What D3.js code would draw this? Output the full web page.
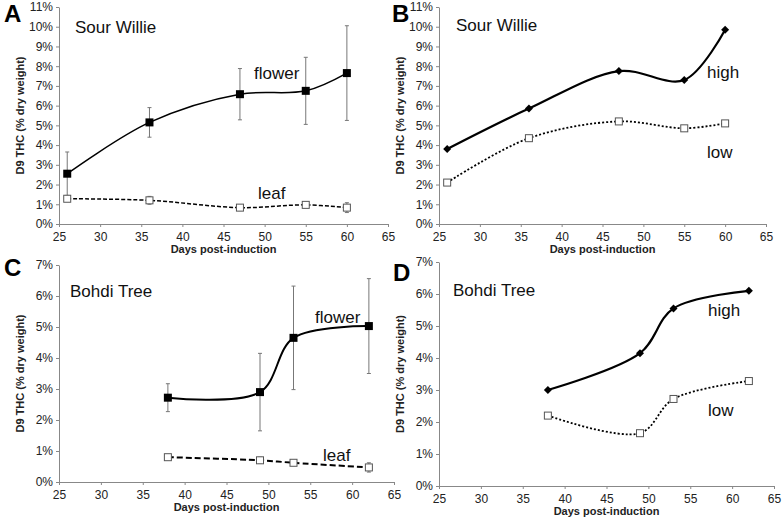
<!DOCTYPE html>
<html><head><meta charset="utf-8">
<script src="https://cdn.jsdelivr.net/npm/d3@7"></script>
<style>body{margin:0;background:#fff;font-family:Arial,"Liberation Sans",sans-serif}</style>
</head><body><svg width="782" height="524"></svg>
<script>
// data
var daysSW = [26, 36, 47, 55, 60];
var flowerSW = [2.55, 5.15, 6.58, 6.75, 7.65];
var flowerSWErr = [1.1, 0.75, 1.3, 1.7, 2.4];
var leafSW = [1.28, 1.2, 0.83, 0.97, 0.83];
var leafSWErr = [0.1, 0.2, 0.15, 0.1, 0.25];
var highSW = [3.8, 5.85, 7.75, 7.3, 9.85];
var lowSW = [2.1, 4.35, 5.2, 4.85, 5.1];
var daysBT = [38, 49, 53, 62];
var flowerBT = [2.72, 2.9, 4.65, 5.03];
var flowerBTErr = [0.45, 1.25, 1.67, 1.53];
var leafBT = [0.8, 0.7, 0.62, 0.47];
var leafBTErr = [0.05, 0.1, 0.05, 0.15];
var highBT = [3.0, 4.15, 5.55, 6.1];
var lowBT = [2.2, 1.65, 2.72, 3.28];
var xTicks = [25, 30, 35, 40, 45, 50, 55, 60, 65];

var svg = d3.select("svg");

function panel(o) {
  var x = d3.scaleLinear().domain([25, 65]).range([o.x0, o.x1]);
  var y = d3.scaleLinear().domain([0, o.ymax]).range([o.y0, o.y1]);
  var g = svg.append("g");
  g.append("g").attr("transform", "translate(0," + o.y0 + ")")
    .call(d3.axisBottom(x).tickValues(xTicks).tickSize(3).tickSizeOuter(0))
    .call(function(a){ a.selectAll("text").attr("font-size", 12).attr("fill", "#222").attr("dy", "0.9em"); a.selectAll("line,path").attr("stroke", "#888"); });
  g.append("g").attr("transform", "translate(" + o.x0 + ",0)")
    .call(d3.axisLeft(y).ticks(o.ymax).tickFormat(function(d){ return d + "%"; }).tickSize(3).tickSizeOuter(0))
    .call(function(a){ a.selectAll("text").attr("font-size", 12).attr("fill", "#222"); a.selectAll("line,path").attr("stroke", "#888"); });
  g.append("text").attr("x", (o.x0 + o.x1) / 2).attr("y", o.y0 + 29).attr("text-anchor", "middle")
    .attr("font-size", 11).attr("font-weight", "bold").attr("fill", "#222").text("Days post-induction");
  g.append("text").attr("transform", "translate(" + (o.x0 - 35) + "," + ((o.y0 + o.y1) / 2) + ") rotate(-90)")
    .attr("text-anchor", "middle").attr("font-size", 11).attr("font-weight", "bold").attr("fill", "#222").text("D9 THC (% dry weight)");
  g.append("text").attr("x", o.lx).attr("y", o.ly).attr("font-size", 24).attr("font-weight", "bold").text(o.letter);
  o.texts.forEach(function(t){
    g.append("text").attr("x", t[1]).attr("y", t[2]).attr("font-size", 17).attr("fill", "#111").text(t[0]);
  });
  var line = d3.line().x(function(d){ return x(d[0]); }).y(function(d){ return y(d[1]); })
    .curve(d3.curveCatmullRom.alpha(0.5));
  o.series.forEach(function(s){
    var pts = o.days.map(function(d, i){ return [d, s.v[i], s.err ? s.err[i] : 0]; });
    if (s.err) {
      pts.forEach(function(p){
        var cx = x(p[0]);
        g.append("path").attr("stroke", "#777").attr("stroke-width", 1).attr("fill", "none")
          .attr("d", "M" + cx + "," + y(p[1] - p[2]) + "V" + y(p[1] + p[2]) +
            "M" + (cx - 2) + "," + y(p[1] - p[2]) + "h4M" + (cx - 2) + "," + y(p[1] + p[2]) + "h4");
      });
    }
    g.append("path").datum(pts).attr("d", line).attr("fill", "none").attr("stroke", "#000")
      .attr("stroke-width", s.w).attr("stroke-dasharray", s.dash || null);
    pts.forEach(function(p){
      var cx = x(p[0]), cy = y(p[1]);
      if (s.mark === "fsq") g.append("rect").attr("x", cx - 4).attr("y", cy - 4).attr("width", 8).attr("height", 8).attr("fill", "#000");
      else if (s.mark === "osq") g.append("rect").attr("x", cx - 3.5).attr("y", cy - 3.5).attr("width", 7).attr("height", 7).attr("fill", "#fff").attr("stroke", "#555");
      else g.append("path").attr("d", "M" + cx + "," + (cy - 4) + "l4,4l-4,4l-4,-4z").attr("fill", "#000");
    });
  });
}

panel({x0: 59, x1: 388, y0: 224, y1: 7, ymax: 11, days: daysSW, letter: "A", lx: 4, ly: 22,
  texts: [["Sour Willie", 75, 33], ["flower", 254, 79], ["leaf", 258, 199]],
  series: [{v: flowerSW, err: flowerSWErr, mark: "fsq", w: 1.5},
           {v: leafSW, err: leafSWErr, mark: "osq", w: 1.5, dash: "4,2"}]});
panel({x0: 439, x1: 766, y0: 224, y1: 7, ymax: 11, days: daysSW, letter: "B", lx: 392, ly: 22,
  texts: [["Sour Willie", 456, 31], ["high", 707, 78], ["low", 707, 158]],
  series: [{v: highSW, mark: "dia", w: 2.2},
           {v: lowSW, mark: "osq", w: 1.8, dash: "2,2"}]});
panel({x0: 59, x1: 394, y0: 482, y1: 265, ymax: 7, days: daysBT, letter: "C", lx: 4, ly: 276,
  texts: [["Bohdi Tree", 70, 297], ["flower", 315, 323], ["leaf", 323, 461]],
  series: [{v: flowerBT, err: flowerBTErr, mark: "fsq", w: 2},
           {v: leafBT, err: leafBTErr, mark: "osq", w: 2, dash: "6,3"}]});
panel({x0: 439, x1: 774, y0: 486, y1: 262, ymax: 7, days: daysBT, letter: "D", lx: 393, ly: 281,
  texts: [["Bohdi Tree", 453, 296], ["high", 708, 316], ["low", 708, 416]],
  series: [{v: highBT, mark: "dia", w: 2.2},
           {v: lowBT, mark: "osq", w: 1.8, dash: "2,2"}]});
</script></body></html>
